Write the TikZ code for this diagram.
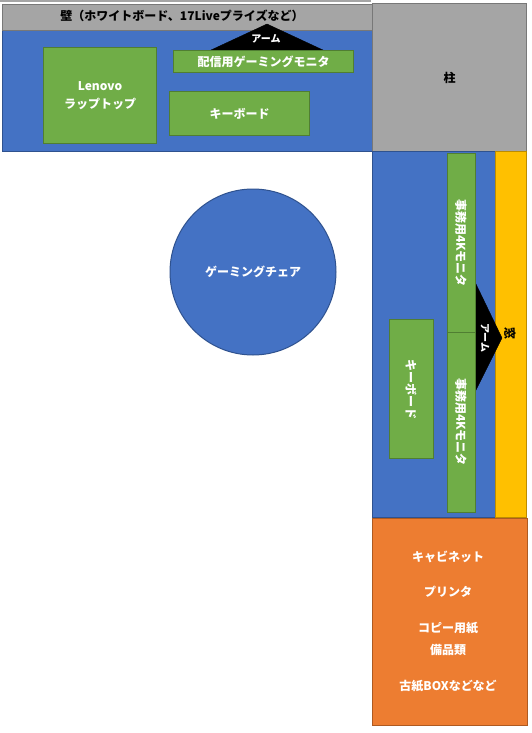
\documentclass[tikz,border=0pt]{standalone}
\usepackage{fontspec}
\setmainfont{Noto Sans CJK JP}
\definecolor{deskblue}{HTML}{4472C4}
\definecolor{deskblueline}{HTML}{2F528F}
\definecolor{itemgreen}{HTML}{70AD47}
\definecolor{itemgreenline}{HTML}{507E32}
\definecolor{wallgray}{HTML}{A5A5A5}
\definecolor{wallgrayline}{HTML}{787878}
\definecolor{cabinetorange}{HTML}{ED7D31}
\definecolor{cabinetline}{HTML}{AE5A21}
\definecolor{windowyellow}{HTML}{FFC000}
\definecolor{windowline}{HTML}{BC8C00}
\tikzset{
  area/.style={draw, line width=1pt, rectangle, inner sep=0pt, anchor=north west,
    font=\fontsize{12}{14}\selectfont\bfseries, align=center},
  desk/.style={area, fill=deskblue, draw=deskblueline},
  item/.style={area, fill=itemgreen, draw=itemgreenline, text=white},
  wall/.style={area, fill=wallgray, draw=wallgrayline, text=black},
  cabinet/.style={area, fill=cabinetorange, draw=cabinetline, text=white},
  windowbox/.style={area, fill=windowyellow, draw=windowline, text=black},
  label/.style={font=\fontsize{12}{14}\selectfont\bfseries, inner sep=0pt},
  armshape/.style={fill=black, draw=black},
}
\begin{document}
\begin{tikzpicture}[x=1pt,y=-1pt]
\useasboundingbox (0,0) rectangle (531,733);
\fill[white] (0,0) rectangle (531,733);
\draw[wallgray, line width=1.5pt] (0,1) -- (371,1);
% main desk
\node[desk, minimum width=370pt, minimum height=122pt] (desk) at (2,29) {};
\node[wall, minimum width=370pt, minimum height=26pt] (wall) at (2,4) {};
\node[label] (walltext) at (182,16) {壁（ホワイトボード、17Liveプライズなど）};
\node[wall, minimum width=154pt, minimum height=148pt] (pillar) at (372,3) {柱};
% arm (top)
\coordinate (armtip) at (267,24);
\fill[armshape] (armtip) -- (325,51) -- (209,51) -- cycle;
\node[label, text=white, font=\fontsize{10}{12}\selectfont\bfseries] (armtext) at (266,39) {アーム};
\node[item, minimum width=180pt, minimum height=22pt] (streammon) at (173,50) {配信用ゲーミングモニタ};
\node[item, minimum width=113pt, minimum height=96pt] (lenovo) at (43,47) {Lenovo\\[4pt]ラップトップ};
\node[item, minimum width=140pt, minimum height=44pt] (kbtop) at (169,91) {キーボード};
% chair
\node[circle, fill=deskblue, draw=deskblueline, line width=1pt, minimum size=166pt, inner sep=0pt,
  text=white, font=\fontsize{12}{14}\selectfont\bfseries] (chair) at (253,272) {ゲーミングチェア};
% right desk
\node[desk, minimum width=123pt, minimum height=366pt] (rdesk) at (372,151) {};
\node[windowbox, minimum width=31pt, minimum height=366pt] (window) at (495,151) {};
\node[label, rotate=-90] (windowtext) at (510,333) {窓};
\fill[armshape] (474,280) -- (502,338) -- (474,394) -- cycle;
\node[label, rotate=-90, text=white, font=\fontsize{10}{12}\selectfont\bfseries] (armtext2) at (485,338) {アーム};
\node[item, minimum width=28pt, minimum height=179pt] (mon1) at (447,153) {};
\node[item, minimum width=28pt, minimum height=180pt] (mon2) at (447,332) {};
\node[label, rotate=-90, text=white] (mon1text) at (461,243) {事務用4Kモニタ};
\node[label, rotate=-90, text=white] (mon2text) at (461,422) {事務用4Kモニタ};
\node[item, minimum width=44pt, minimum height=139pt] (kbright) at (389,319) {};
\node[label, rotate=-90, text=white] (kbrighttext) at (411,389) {キーボード};
% cabinet
\node[cabinet, minimum width=155pt, minimum height=207pt] (cab) at (372,518) {};
\node[label, text=white] (cab1) at (448,557) {キャビネット};
\node[label, text=white] (cab2) at (448,592) {プリンタ};
\node[label, text=white] (cab3) at (448,628) {コピー用紙};
\node[label, text=white] (cab4) at (448,650) {備品類};
\node[label, text=white] (cab5) at (448,686) {古紙BOXなどなど};
\end{tikzpicture}
\end{document}
